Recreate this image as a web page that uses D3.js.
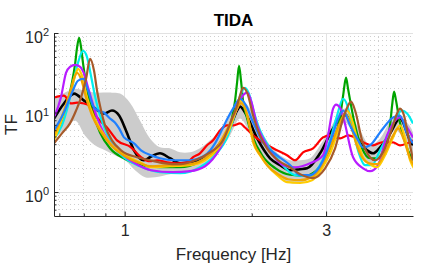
<!DOCTYPE html>
<html>
<head>
<meta charset="utf-8">
<script src="https://cdn.jsdelivr.net/npm/d3@7"></script>
<style>
    body { margin: 0; background: #fff; }
    svg { font-family: "Liberation Sans", Arial, Helvetica, sans-serif; }
</style>
</head>
<body>
<svg id="tf_svg" width="432" height="263"></svg>
<script>
/**
 * Axis settings (log-log)
 */
const x_domain = [0.68, 4.82]
const y_domain = [0.5, 100]
const x_ticks = [1, 3]
const x_minor = [0.7, 0.8, 0.9, 2, 4]
const y_ticks = [1, 10, 100]
const y_minor = [0.6, 0.7, 0.8, 0.9, 2, 3, 4, 5, 6, 7, 8, 9, 20, 30, 40, 50, 60, 70, 80, 90]

/**
 * Spread of the transfer functions (grey band)
 */
const band_upper_freq = [0.680,0.722,0.763,0.805,0.850,0.923,0.975,1.029,1.087,1.148,1.212,1.280,1.352,1.428,1.508,1.593,1.682,1.777,1.876,1.981,2.092,2.210,2.334,2.464,2.603,2.749,2.903,3.066,3.327,3.611,3.813,4.027,4.370,4.615,4.820]
const band_upper_tf = [14.1,17.8,19.9,18.8,17.8,17.8,17.3,13.3,7.94,4.73,3.65,3.55,3.16,3.16,3.55,4.47,5.96,9.17,14.9,11.2,6.31,3.87,2.90,2.51,2.51,2.66,3.87,6.31,11.2,5.96,3.87,4.73,9.17,7.94,5.62]
const band_lower_freq = [0.680,0.722,0.763,0.805,0.850,0.898,0.948,1.002,1.058,1.117,1.180,1.280,1.390,1.508,1.593,1.682,1.777,1.876,1.981,2.092,2.210,2.334,2.464,2.603,2.749,2.903,3.151,3.327,3.611,3.813,4.027,4.370,4.615,4.820]
const band_lower_tf = [4.87,6.31,7.94,5.16,3.87,3.35,2.90,2.51,1.88,1.54,1.54,1.68,1.83,2.05,2.51,3.35,5.16,8.41,5.46,3.07,1.99,1.50,1.30,1.30,1.50,2.18,4.47,7.5,3.35,2.30,2.66,5.96,4.47,2.90]

/**
 * Transfer function curves
 */
const black_freq = [0.680,0.718,0.759,0.801,0.846,0.893,0.933,0.970,1.007,1.052,1.111,1.148,1.212,1.280,1.352,1.428,1.567,1.682,1.777,1.846,1.876,1.928,2.060,2.210,2.334,2.464,2.603,2.705,2.903,3.117,3.327,3.514,3.752,3.876,4.027,4.253,4.491,4.743,4.820]
const black_tf = [8.41,13.0,17.3,14.1,11.5,9.72,10.6,9.17,5.96,3.35,2.51,2.74,3.07,2.66,2.30,2.37,2.74,4.10,6.49,10.6,11.9,10.0,4.73,2.66,2.18,1.88,1.94,1.99,3.07,6.31,9.4,5.16,3.35,3.07,3.65,5.46,8.41,4.47,3.87]

const red_freq = [0.680,0.718,0.746,0.771,0.801,0.828,0.860,0.908,0.959,1.035,1.093,1.148,1.193,1.259,1.330,1.405,1.452,1.508,1.567,1.620,1.682,1.747,1.806,1.876,1.928,2.015,2.126,2.247,2.424,2.533,2.646,2.795,2.952,3.066,3.238,3.382,3.553,3.711,3.876,4.071,4.323,4.491,4.820]
const red_tf = [15.4,16.3,13.0,13.3,13.0,11.9,8.66,6.49,4.47,3.65,2.74,2.44,2.51,2.37,2.30,2.37,2.74,3.07,3.87,4.47,5.96,6.88,6.88,7.30,6.49,5.16,4.22,3.55,2.90,2.51,3.16,3.55,4.87,5.16,4.73,5.16,4.73,4.10,3.87,4.22,4.22,3.87,4.47]

const green_freq = [0.680,0.710,0.734,0.750,0.763,0.771,0.780,0.788,0.797,0.814,0.837,0.874,0.923,1.002,1.087,1.212,1.352,1.508,1.637,1.729,1.786,1.826,1.846,1.866,1.886,1.907,1.950,2.004,2.115,2.272,2.464,2.675,2.903,3.117,3.238,3.292,3.345,3.382,3.438,3.514,3.651,3.813,3.984,4.138,4.253,4.300,4.347,4.394,4.467,4.565,4.692,4.820]
const green_tf = [5.16,7.94,14.1,23.7,41.0,65.0,86.6,66.8,41.0,19.9,10.6,5.62,3.55,2.6,2.2,2.05,2.05,2.4,3.2,4.47,7.5,14.1,23.7,38.7,25.1,14.1,8.41,5.16,2.90,2.0,1.65,1.6,2.1,4.47,8.66,16.3,27.4,19.9,12.2,6.88,3.55,2.66,2.66,3.87,6.88,12.2,18.3,14.1,8.41,5.16,3.35,2.51]

const cyan_freq = [0.680,0.710,0.734,0.759,0.775,0.797,0.814,0.832,0.850,0.874,0.923,1.002,1.087,1.212,1.352,1.508,1.637,1.757,1.835,1.886,1.928,1.970,2.025,2.092,2.186,2.334,2.533,2.749,2.903,3.066,3.185,3.292,3.363,3.457,3.571,3.711,3.855,4.027,4.253,4.418,4.541,4.667,4.820]
const cyan_tf = [4.73,6.88,12.2,26.6,42.2,59.6,50.1,29.0,16.3,9.17,4.47,2.66,2.11,1.78,1.73,2.05,2.90,5.16,10.6,17.3,20.5,17.3,10.0,5.96,3.87,2.37,1.63,1.58,2.18,4.47,9.17,14.9,12.6,6.88,3.35,2.18,2.18,3.35,5.96,9.17,10.6,9.72,7.30]

const magenta_freq = [0.680,0.706,0.726,0.742,0.763,0.784,0.801,0.819,0.832,0.860,0.893,0.944,0.980,1.058,1.154,1.301,1.428,1.550,1.682,1.777,1.846,1.897,1.950,1.992,2.060,2.150,2.247,2.372,2.533,2.749,2.952,3.032,3.117,3.169,3.238,3.310,3.476,3.671,3.813,3.984,4.183,4.323,4.491,4.666,4.820]
const magenta_tf = [8.66,15.4,31.6,37.6,39.8,37.6,30.8,20.5,15.4,8.66,5.46,3.65,3.07,2.30,1.88,1.78,1.83,2.11,3.55,6.88,11.2,15.8,17.8,14.1,6.88,4.22,2.90,2.18,2.05,2.30,2.90,5.16,11.2,12.6,11.5,7.94,2.74,1.99,1.83,2.18,5.16,7.30,8.66,6.49,4.87]

const yellow_freq = [0.680,0.718,0.746,0.763,0.775,0.792,0.814,0.846,0.879,0.933,1.002,1.087,1.154,1.280,1.428,1.550,1.664,1.777,1.836,1.876,1.917,1.960,2.015,2.092,2.173,2.297,2.424,2.603,2.778,2.935,3.066,3.238,3.363,3.457,3.571,3.671,3.813,3.962,4.138,4.323,4.491,4.615,4.743,4.846]
const yellow_tf = [4.47,9.72,18.8,29.0,35.5,29.0,15.4,8.66,5.96,3.87,2.90,2.37,2.05,2.11,2.18,2.51,3.55,6.49,10.6,14.1,12.6,8.41,4.22,2.90,2.18,1.63,1.33,1.30,1.41,1.99,3.07,6.88,10.6,7.94,4.22,2.74,2.24,2.05,2.90,4.87,6.88,4.73,2.51,1.99]

const orange_freq = [0.680,0.718,0.746,0.759,0.771,0.788,0.810,0.841,0.874,0.933,1.002,1.087,1.154,1.280,1.428,1.550,1.664,1.767,1.836,1.886,1.928,1.970,2.025,2.104,2.186,2.308,2.438,2.603,2.778,2.935,3.083,3.238,3.327,3.419,3.533,3.651,3.793,3.962,4.161,4.323,4.442,4.590,4.743,4.846]
const orange_tf = [5.16,10.6,19.9,27.4,31.6,26.6,15.4,8.66,5.96,3.76,2.82,2.30,2.11,2.18,2.24,2.66,3.87,6.88,10.6,13.0,11.2,7.5,4.10,2.82,2.11,1.68,1.45,1.41,1.54,2.18,3.87,7.5,9.72,7.5,4.10,2.74,2.30,2.24,3.35,5.16,6.31,4.47,2.66,2.18]

const blue_freq = [0.680,0.718,0.750,0.775,0.797,0.819,0.841,0.864,0.893,0.923,0.948,0.970,0.996,1.052,1.093,1.154,1.212,1.316,1.428,1.550,1.637,1.710,1.757,1.806,1.876,1.939,2.015,2.126,2.297,2.464,2.603,2.749,2.952,3.117,3.204,3.292,3.419,3.553,3.671,3.813,4.027,4.183,4.323,4.491,4.666,4.820]
const blue_tf = [5.96,10.0,17.8,25.1,26.6,18.8,12.2,10.6,10.0,8.41,7.5,6.31,4.87,4.10,3.35,2.90,2.66,2.51,2.51,2.90,4.10,6.49,8.66,11.2,14.9,12.2,7.5,4.22,2.90,2.18,1.63,1.63,2.51,5.46,8.41,10.6,6.88,4.73,3.65,3.87,5.62,7.30,8.66,9.17,5.46,4.10]

const brown_freq = [0.680,0.710,0.742,0.767,0.788,0.810,0.828,0.846,0.860,0.879,0.898,0.933,0.980,1.069,1.148,1.246,1.352,1.468,1.593,1.710,1.796,1.846,1.876,1.907,1.950,2.015,2.092,2.173,2.308,2.464,2.603,2.795,2.984,3.151,3.292,3.382,3.438,3.514,3.651,3.813,3.919,4.094,4.300,4.418,4.491,4.590,4.692,4.820]
const brown_tf = [4.10,5.46,7.30,10.6,15.4,26.6,47.3,33.5,18.8,10.6,6.88,4.47,3.35,2.74,2.51,2.30,2.24,2.51,3.16,4.47,8.41,12.2,16.3,20.5,17.8,9.17,5.16,3.55,2.51,2.05,1.68,1.50,1.99,3.55,8.41,12.2,13.7,10.6,4.47,2.74,2.51,3.16,6.31,9.72,11.2,9.17,5.16,2.51]

/**
 * Drawing order: last one ends up on top
 */
const series = [
    { name: "mean", color: "#000000", width: 2.6, freq: black_freq, tf: black_tf },
    { name: "red", color: "#ff0000", width: 2.2, freq: red_freq, tf: red_tf },
    { name: "green", color: "#00a400", width: 2.2, freq: green_freq, tf: green_tf },
    { name: "cyan", color: "#00eeee", width: 2.2, freq: cyan_freq, tf: cyan_tf },
    { name: "magenta", color: "#b81cff", width: 2.2, freq: magenta_freq, tf: magenta_tf },
    { name: "yellow", color: "#ffcc00", width: 2.2, freq: yellow_freq, tf: yellow_tf },
    { name: "orange", color: "#f0a400", width: 2.2, freq: orange_freq, tf: orange_tf },
    { name: "blue", color: "#1f80ff", width: 2.2, freq: blue_freq, tf: blue_tf },
    { name: "brown", color: "#a65a2a", width: 2.2, freq: brown_freq, tf: brown_tf },
]

const margin = { top: 33, bottom: 47, left: 54, right: 19 }

let svg = d3.select("#tf_svg")
let width = parseInt(svg.attr("width"))
let height = parseInt(svg.attr("height"))

const xScale = d3.scaleLog().domain(x_domain).range([margin.left, width - margin.right])
const yScale = d3.scaleLog().domain(y_domain).range([height - margin.bottom, margin.top])

const axis_color = "#262626"

/**
 * Grid: dotted minor, solid major
 */
let g_grid = svg.append("g").attr("shape-rendering", "crispEdges")

g_grid.selectAll(".minor_x").data(x_minor).enter().append("line")
    .attr("class", "minor_x")
    .attr("x1", d => xScale(d)).attr("x2", d => xScale(d))
    .attr("y1", margin.top).attr("y2", height - margin.bottom)
    .attr("stroke", "#cfcfcf").attr("stroke-dasharray", "1,3")

g_grid.selectAll(".minor_y").data(y_minor).enter().append("line")
    .attr("class", "minor_y")
    .attr("x1", margin.left).attr("x2", width - margin.right)
    .attr("y1", d => yScale(d)).attr("y2", d => yScale(d))
    .attr("stroke", "#cfcfcf").attr("stroke-dasharray", "1,3")

g_grid.selectAll(".major_x").data(x_ticks).enter().append("line")
    .attr("class", "major_x")
    .attr("x1", d => xScale(d)).attr("x2", d => xScale(d))
    .attr("y1", margin.top).attr("y2", height - margin.bottom)
    .attr("stroke", "#e2e2e2")

g_grid.selectAll(".major_y").data(y_ticks).enter().append("line")
    .attr("class", "major_y")
    .attr("x1", margin.left).attr("x2", width - margin.right)
    .attr("y1", d => yScale(d)).attr("y2", d => yScale(d))
    .attr("stroke", "#e2e2e2")

/**
 * Clip for the data
 */
svg.append("defs").append("clipPath").attr("id", "plot_clip")
    .append("rect")
    .attr("x", margin.left).attr("y", margin.top)
    .attr("width", width - margin.left - margin.right)
    .attr("height", height - margin.top - margin.bottom)

let g_data = svg.append("g").attr("clip-path", "url(#plot_clip)")

/**
 * Grey band
 */
const band_pts = d3.zip(band_upper_freq, band_upper_tf)
    .concat(d3.zip(band_lower_freq, band_lower_tf).reverse())

const band_line = d3.line()
    .x(d => xScale(d[0]))
    .y(d => yScale(d[1]))
    .curve(d3.curveCatmullRomClosed)

g_data.append("path")
    .attr("d", band_line(band_pts))
    .attr("fill", "#cccccc")
    .attr("stroke", "none")

/**
 * Curves
 */
const tf_line = d3.line()
    .x(d => xScale(d[0]))
    .y(d => yScale(d[1]))
    .curve(d3.curveMonotoneX)

g_data.selectAll(".tf_line").data(series).enter().append("path")
    .attr("class", "tf_line")
    .attr("d", d => tf_line(d3.zip(d.freq, d.tf)))
    .attr("fill", "none")
    .attr("stroke", d => d.color)
    .attr("stroke-width", d => d.width)
    .attr("stroke-linejoin", "round")

/**
 * Axes
 */
let g_x_minor = svg.append("g")
    .attr("transform", "translate(0," + (height - margin.bottom) + ")")
    .call(d3.axisBottom(xScale).tickValues(x_minor).tickFormat("").tickSizeInner(-2.5).tickSizeOuter(0))
g_x_minor.select(".domain").remove()
g_x_minor.selectAll("line").attr("stroke", axis_color)

let g_y_minor = svg.append("g")
    .attr("transform", "translate(" + margin.left + ",0)")
    .call(d3.axisLeft(yScale).tickValues(y_minor).tickFormat("").tickSizeInner(-2.5).tickSizeOuter(0))
g_y_minor.select(".domain").remove()
g_y_minor.selectAll("line").attr("stroke", axis_color)

let g_x_axis = svg.append("g")
    .attr("transform", "translate(0," + (height - margin.bottom) + ")")
    .call(d3.axisBottom(xScale).tickValues(x_ticks).tickFormat(d3.format("d"))
        .tickSizeInner(-4.5).tickSizeOuter(0).tickPadding(9))
g_x_axis.attr("font-size", 16).attr("font-family", null)
g_x_axis.selectAll("line, path").attr("stroke", axis_color)
g_x_axis.selectAll("text").attr("fill", axis_color)

let g_y_axis = svg.append("g")
    .attr("transform", "translate(" + margin.left + ",0)")
    .call(d3.axisLeft(yScale).tickValues(y_ticks).tickSizeInner(-4.5).tickSizeOuter(0).tickPadding(5))
g_y_axis.attr("font-size", 16).attr("font-family", null)
g_y_axis.selectAll("line, path").attr("stroke", axis_color)
g_y_axis.selectAll(".tick text")
    .attr("fill", axis_color)
    .attr("dy", null)
    .attr("y", 9)
    .text("10")
    .append("tspan")
    .attr("dy", -6.5)
    .attr("font-size", 11)
    .text(d => Math.round(Math.log10(d)))

/**
 * Labels
 */
svg.append("text")
    .attr("x", (margin.left + width - margin.right) / 2)
    .attr("y", 26)
    .attr("text-anchor", "middle")
    .attr("font-size", 17)
    .attr("font-weight", "bold")
    .attr("fill", "#000")
    .text("TIDA")

svg.append("text")
    .attr("x", (margin.left + width - margin.right) / 2)
    .attr("y", 260)
    .attr("text-anchor", "middle")
    .attr("font-size", 17)
    .attr("fill", axis_color)
    .text("Frequency [Hz]")

svg.append("text")
    .attr("transform", "translate(17," + ((margin.top + height - margin.bottom) / 2) + ") rotate(-90)")
    .attr("text-anchor", "middle")
    .attr("font-size", 17)
    .attr("fill", axis_color)
    .text("TF")
</script>
</body>
</html>
